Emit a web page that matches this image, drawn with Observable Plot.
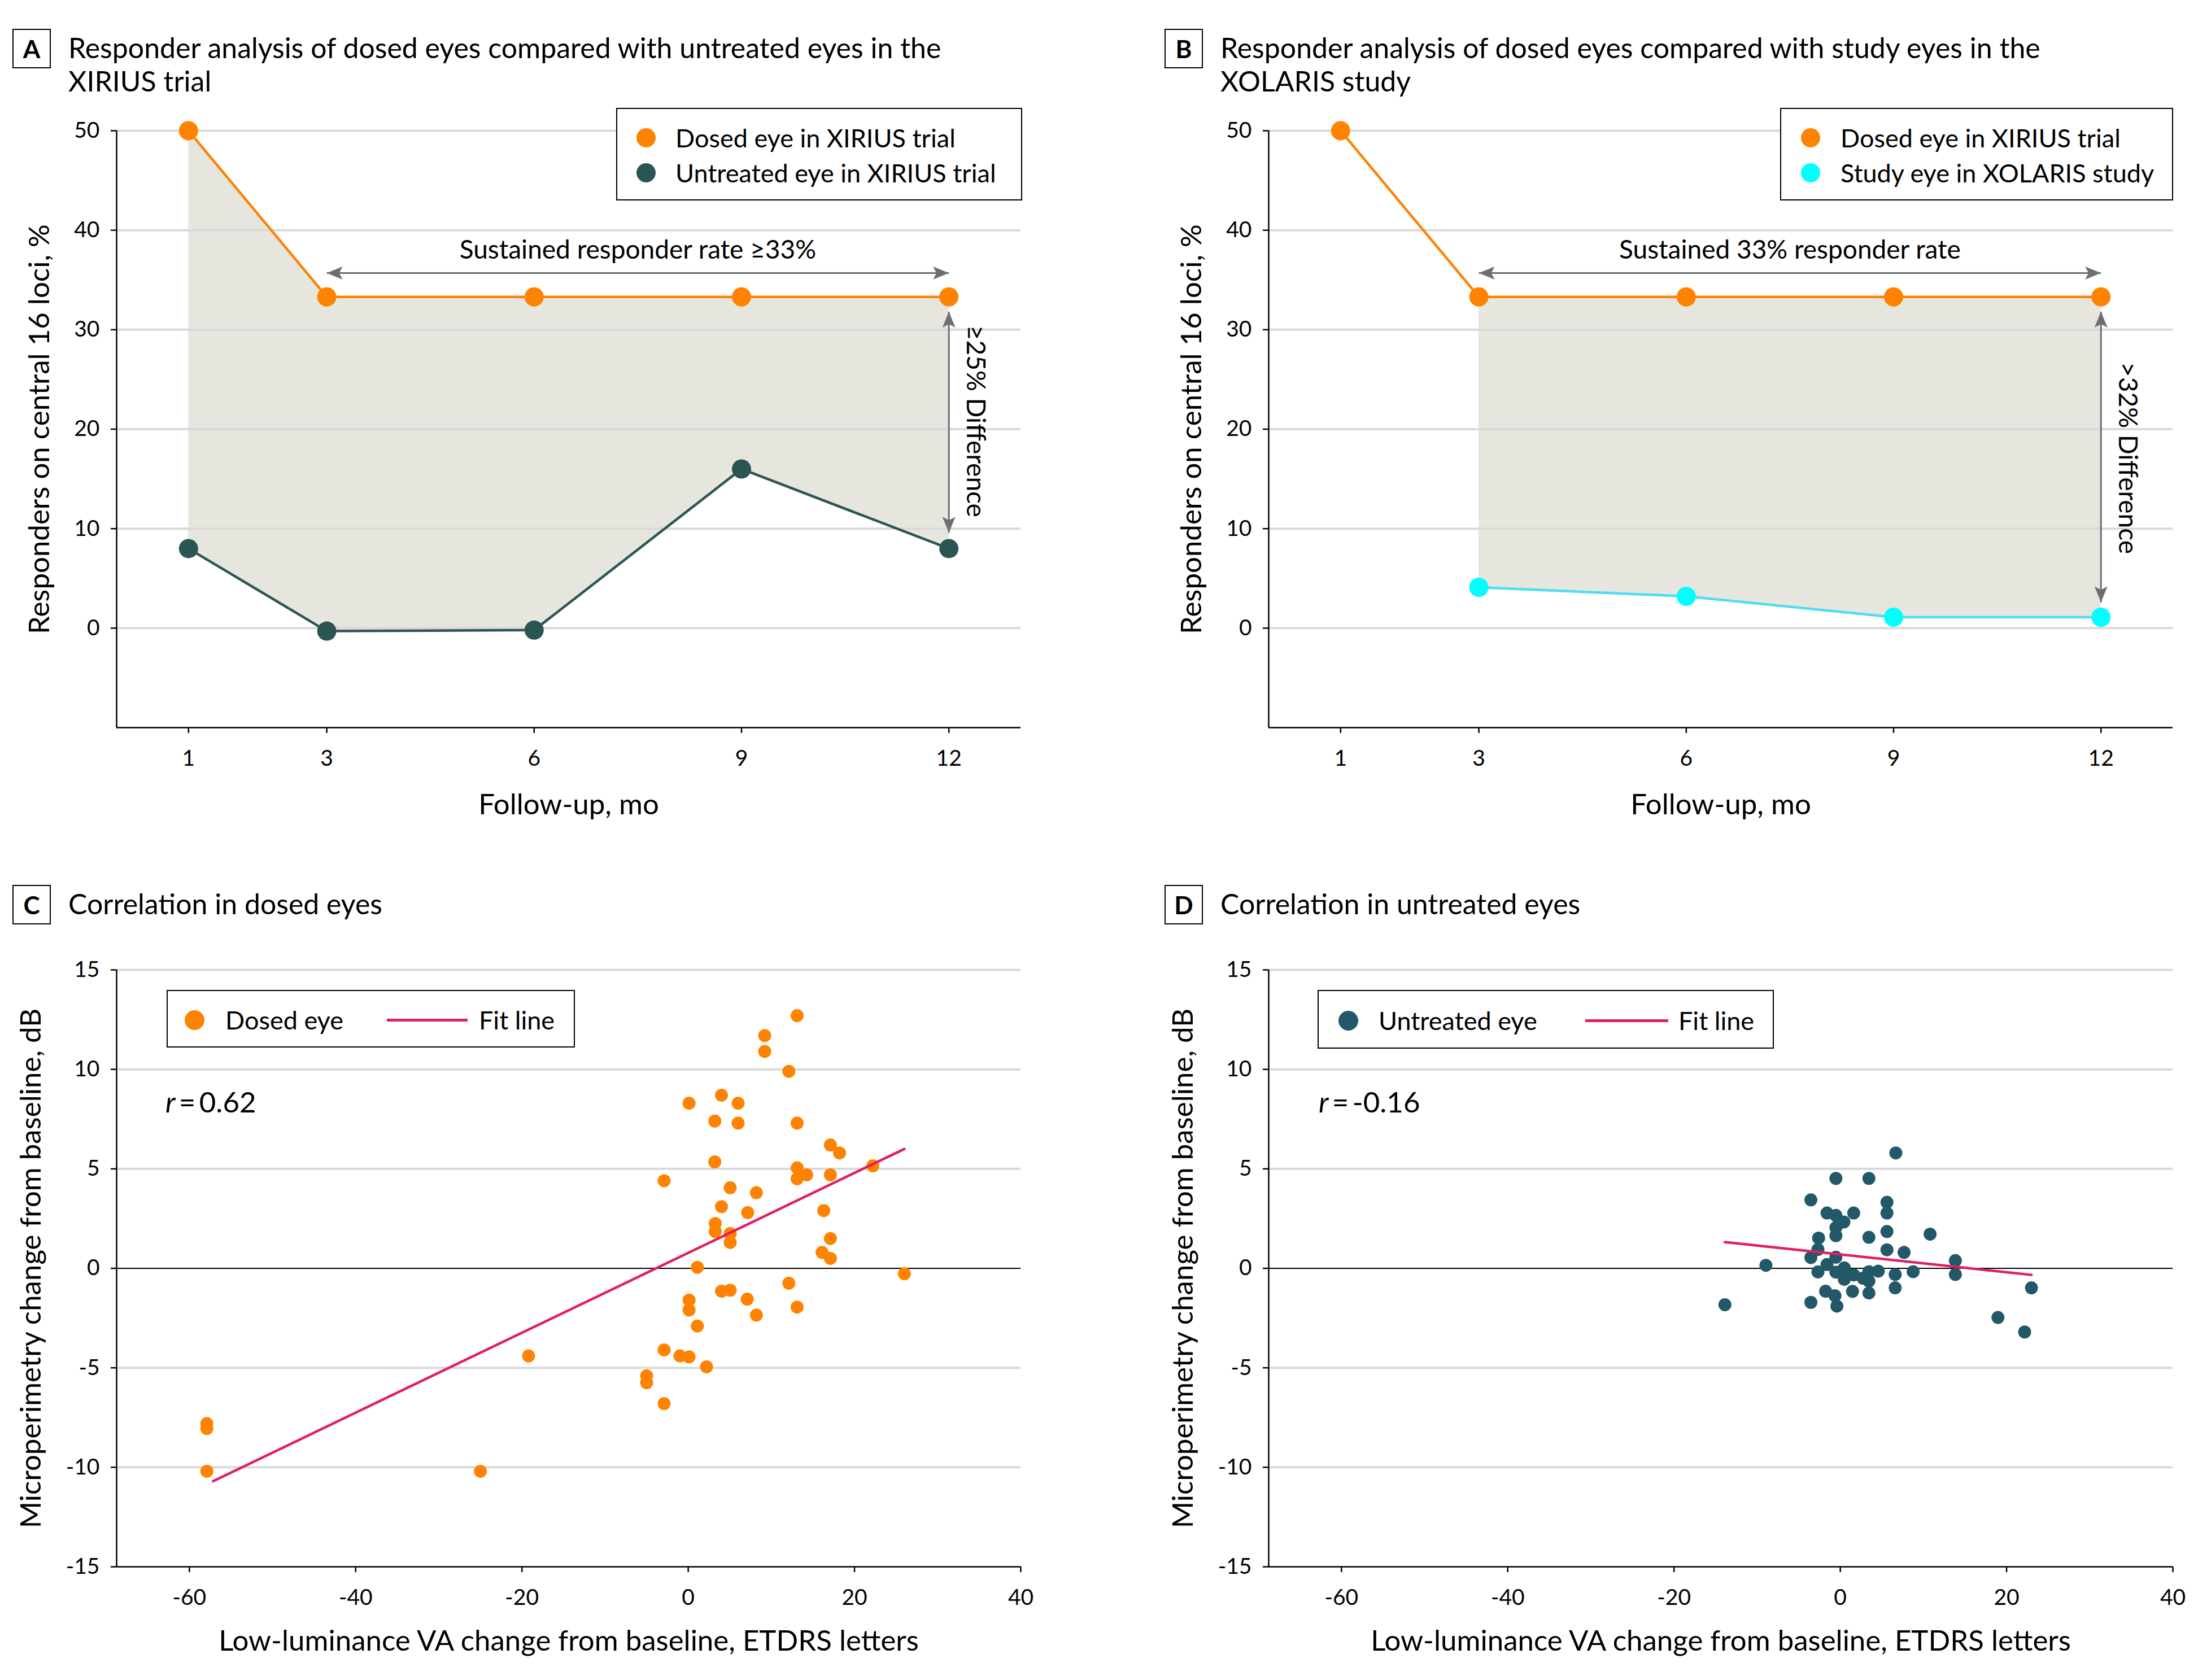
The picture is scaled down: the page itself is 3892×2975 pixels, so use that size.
<!DOCTYPE html>
<html><head><meta charset="utf-8">
<script src="https://cdn.jsdelivr.net/npm/d3@7"></script>
<script src="https://cdn.jsdelivr.net/npm/@observablehq/plot@0.6"></script>
<style>
html,body{margin:0;padding:0;background:#fff;}
body{width:3892px;height:2975px;position:relative;overflow:hidden;font-family:Lato,"Noto Sans",sans-serif;color:#000;}
.panel{position:absolute;width:1946px;height:1480px;}
.lab{position:absolute;left:22px;top:51px;width:64px;height:66px;border:2.5px solid #000;font-weight:700;font-size:44px;display:flex;align-items:center;justify-content:center;}
.title{position:absolute;left:121px;top:55px;font-size:50px;line-height:59px;white-space:nowrap;}
.svgwrap{position:absolute;left:0;}
.legend{position:absolute;background:#fff;border:2.5px solid #000;box-sizing:border-box;}
.ldot{position:absolute;border-radius:50%;}
.lline{position:absolute;}
.ltxt{position:absolute;font-size:45px;line-height:1;white-space:nowrap;transform:translateY(-50%);}
.rtxt{position:absolute;font-size:51px;line-height:51px;white-space:nowrap;}
</style>
</head><body>
<script>
// ---------- data ----------
const months = [1, 3, 6, 9, 12];
const dosedXirius = [50, 33.3, 33.3, 33.3, 33.3];
const untreatedXirius = [8, -0.3, -0.2, 16, 8];
const xolarisMonths = [3, 6, 9, 12];
const dosedAtXolaris = [33.3, 33.3, 33.3, 33.3];
const studyXolaris = [4.1, 3.2, 1.1, 1.1];

const monthTicks = [1, 3, 6, 9, 12];
const responderTicks = [0, 10, 20, 30, 40, 50];
const vaTicks = [-60, -40, -20, 0, 20, 40];
const dbTicks = [-15, -10, -5, 0, 5, 10, 15];

const dosedVA = [13.1, 9.2, 9.2, 12.1, 4.0, 0.1, 6.0, 3.2, 6.0, 13.1, 17.1, 18.2, 3.2, 22.2, 13.1, 13.1, 14.25, 17.1, -2.9, 5.05, 8.2, 4.0, 7.15, 16.3, 3.25, 3.25, 5.05, 5.05, 17.1, 16.1, 17.1, 1.1, 26.0, 12.1, 4.0, 5.05, 7.1, 0.1, 0.1, 13.1, 8.2, 1.1, -2.9, -1.0, 0.1, 2.2, -5.0, -5.0, -2.9, -19.2, -57.9, -57.9, -57.9, -25.0];
const dosedDB = [12.7, 11.7, 10.9, 9.9, 8.7, 8.3, 8.3, 7.4, 7.3, 7.3, 6.2, 5.8, 5.35, 5.15, 5.05, 4.5, 4.7, 4.7, 4.4, 4.05, 3.8, 3.1, 2.8, 2.9, 2.25, 1.85, 1.75, 1.3, 1.5, 0.8, 0.5, 0.05, -0.27, -0.75, -1.15, -1.1, -1.55, -1.6, -2.1, -1.95, -2.35, -2.9, -4.1, -4.4, -4.45, -4.95, -5.4, -5.75, -6.8, -4.4, -7.8, -8.05, -10.2, -10.2];

const untreatedVA = [6.68, -0.53, 3.44, -3.54, 5.61, 5.61, -1.6, -0.53, 1.61, 0.43, -0.53, -0.53, -2.61, 3.44, 5.61, 10.8, -2.69, 5.61, 7.67, -3.54, -0.53, 13.84, -8.95, -1.6, -2.69, -0.53, 0.48, 0.48, 1.61, 3.44, 4.57, 2.74, 3.44, 0.48, 6.6, 8.76, 13.84, 6.6, 1.47, 3.44, -1.77, -0.64, -0.41, -3.54, -13.88, 22.99, 18.96, 22.17];
const untreatedDB = [5.8, 4.52, 4.52, 3.44, 3.32, 2.78, 2.78, 2.66, 2.78, 2.33, 2.05, 1.64, 1.52, 1.56, 1.85, 1.72, 0.95, 0.93, 0.8, 0.54, 0.56, 0.39, 0.15, 0.19, -0.18, -0.19, 0.02, -0.31, -0.33, -0.17, -0.14, -0.5, -0.64, -0.55, -0.31, -0.17, -0.31, -0.98, -1.16, -1.24, -1.15, -1.38, -1.9, -1.71, -1.83, -0.98, -2.47, -3.2];

const fitDosedVA = [-57.15, 26.0];
const fitDosedDB = [-10.7, 6.0];
const fitUntreatedVA = [-13.9, 23.0];
const fitUntreatedDB = [1.32, -0.33];

// annotations
const spanA = {label: "Sustained responder rate \u226533%", x1: 3, x2: 12, y: 35.7, labelY: 38};
const diffA = {label: "\u226525% Difference", x: 12, y1: 31.8, y2: 9.6, labelX: 12.38, labelY: 20.8};
const spanB = {label: "Sustained 33% responder rate", x1: 3, x2: 12, y: 35.7, labelY: 38};
const diffB = {label: ">32% Difference", x: 12, y1: 31.8, y2: 2.6, labelX: 12.38, labelY: 17.1};

const titles = {
  A: ["Responder analysis of dosed eyes compared with untreated eyes in the", "XIRIUS trial"],
  B: ["Responder analysis of dosed eyes compared with study eyes in the", "XOLARIS study"],
  C: ["Correlation in dosed eyes"],
  D: ["Correlation in untreated eyes"]
};
const legendLabels = {
  A: ["Dosed eye in XIRIUS trial", "Untreated eye in XIRIUS trial"],
  B: ["Dosed eye in XIRIUS trial", "Study eye in XOLARIS study"],
  C: ["Dosed eye", "Fit line"],
  D: ["Untreated eye", "Fit line"]
};
const corr = {C: "0.62", D: "-0.16"};
const xLabels = {top: "Follow-up, mo", bottom: "Low-luminance VA change from baseline, ETDRS letters"};
const yLabels = {top: "Responders on central 16 loci, %", bottom: "Microperimetry change from baseline, dB"};

// ---------- style ----------
const FONT = 'Lato, "Noto Sans", sans-serif';
const ORANGE = "#ff8200";
const DARK_A = "#2a5553";
const DARK_D = "#225868";
const CYAN_DOT = "#00ffff";
const CYAN_LINE = "#4fdcf5";
const FIT = "#e01f5f";
const SHADE = "#e6e6de";
const GRID = "#d9d9d9";
const ARROW = "#6e6e6e";

const HEAD = {draw(ctx) { ctx.moveTo(0, 0); ctx.lineTo(11.5, 28); ctx.lineTo(0, 22); ctx.lineTo(-11.5, 28); ctx.closePath(); }};

const W = 1946, H = 1360;
const M = {marginLeft: 206, marginRight: 139, marginTop: 91, marginBottom: 212};

function axes(xTicks, yTicks, xDomain, yDomain, xl, yl, xlOff, ylOff) {
  return [
    Plot.ruleX([xDomain[0]], {stroke: "#000", strokeWidth: 2.5}),
    Plot.ruleY([yDomain[0]], {stroke: "#000", strokeWidth: 2.5}),
    Plot.axisX({ticks: xTicks, tickSize: 10, tickPadding: 30, tickFormat: d => String(d), fontSize: 39, strokeWidth: 2.5, label: null}),
    Plot.axisY({ticks: yTicks, tickSize: 10, tickPadding: 20, tickFormat: d => String(d), fontSize: 39, strokeWidth: 2.5, label: null}),
    Plot.text([xl], {text: d => d, frameAnchor: "bottom", textAnchor: "middle", dy: xlOff, fontSize: 51, lineAnchor: "middle"}),
    Plot.text([yl], {text: d => d, frameAnchor: "left", textAnchor: "middle", dx: ylOff, rotate: -90, fontSize: 51, lineAnchor: "middle"})
  ];
}

function annotation(span, diff) {
  const hHeads = [{x: span.x1, y: span.y, a: -90}, {x: span.x2, y: span.y, a: 90}];
  const vHeads = [{x: diff.x, y: diff.y1, a: 0}, {x: diff.x, y: diff.y2, a: 180}];
  return [
    Plot.link([span], {x1: "x1", x2: "x2", y1: "y", y2: "y", stroke: ARROW, strokeWidth: 3}),
    Plot.dot(hHeads, {x: "x", y: "y", rotate: "a", symbol: HEAD, r: 10, fill: ARROW}),
    Plot.text([span], {x: d => (d.x1 + d.x2) / 2, y: "labelY", text: "label", fontSize: 46}),
    Plot.link([diff], {x1: "x", x2: "x", y1: "y1", y2: "y2", stroke: ARROW, strokeWidth: 3}),
    Plot.dot(vHeads, {x: "x", y: "y", rotate: "a", symbol: HEAD, r: 10, fill: ARROW}),
    Plot.text([diff], {x: "labelX", y: "labelY", text: "label", rotate: 90, fontSize: 46})
  ];
}

function basePlot(xDomain, yDomain, marks) {
  return Plot.plot({
    width: W, height: H, ...M,
    x: {domain: xDomain, label: null},
    y: {domain: yDomain, label: null},
    style: {background: "transparent", fontFamily: FONT, fontSize: "39px", color: "#000", overflow: "visible"},
    marks
  });
}

const respX = [-0.04, 13.04], respY = [-10, 50];
const corrX = [-68.75, 40], corrY = [-15, 15];

const rowsA = months.map((m, i) => ({m, hi: dosedXirius[i], lo: untreatedXirius[i]}));
const rowsB = xolarisMonths.map((m, i) => ({m, hi: dosedAtXolaris[i], lo: studyXolaris[i]}));
const dosedRows = months.map((m, i) => ({m, v: dosedXirius[i]}));

const plotA = basePlot(respX, respY, [
  Plot.areaY(rowsA, {x: "m", y1: "lo", y2: "hi", fill: SHADE}),
  Plot.ruleY(responderTicks, {stroke: GRID, strokeWidth: 4}),
  ...axes(monthTicks, responderTicks, respX, respY, xLabels.top, yLabels.top, 137, -136),
  ...annotation(spanA, diffA),
  Plot.line(rowsA, {x: "m", y: "lo", stroke: DARK_A, strokeWidth: 4.5}),
  Plot.line(dosedRows, {x: "m", y: "v", stroke: ORANGE, strokeWidth: 4.5}),
  Plot.dot(rowsA, {x: "m", y: "lo", r: 17, fill: DARK_A}),
  Plot.dot(dosedRows, {x: "m", y: "v", r: 17, fill: ORANGE})
]);

const plotB = basePlot(respX, respY, [
  Plot.areaY(rowsB, {x: "m", y1: "lo", y2: "hi", fill: SHADE}),
  Plot.ruleY(responderTicks, {stroke: GRID, strokeWidth: 4}),
  ...axes(monthTicks, responderTicks, respX, respY, xLabels.top, yLabels.top, 137, -136),
  ...annotation(spanB, diffB),
  Plot.line(rowsB, {x: "m", y: "lo", stroke: CYAN_LINE, strokeWidth: 4.5}),
  Plot.line(dosedRows, {x: "m", y: "v", stroke: ORANGE, strokeWidth: 4.5}),
  Plot.dot(rowsB, {x: "m", y: "lo", r: 17, fill: CYAN_DOT}),
  Plot.dot(dosedRows, {x: "m", y: "v", r: 17, fill: ORANGE})
]);

function corrPlot(vx, vy, fx, fy, color) {
  const pts = vx.map((x, i) => ({x, y: vy[i]}));
  const fit = fx.map((x, i) => ({x, y: fy[i]}));
  return basePlot(corrX, corrY, [
    Plot.ruleY(dbTicks.filter(t => t !== 0 && t !== corrY[0]), {stroke: GRID, strokeWidth: 4}),
    Plot.ruleY([0], {stroke: "#000", strokeWidth: 2}),
    ...axes(vaTicks, dbTicks, corrX, corrY, xLabels.bottom, yLabels.bottom, 132, -151),
    Plot.dot(pts, {x: "x", y: "y", r: 11.5, fill: color}),
    Plot.line(fit, {x: "x", y: "y", stroke: FIT, strokeWidth: 4.5})
  ]);
}
const plotC = corrPlot(dosedVA, dosedDB, fitDosedVA, fitDosedDB, ORANGE);
const plotD = corrPlot(untreatedVA, untreatedDB, fitUntreatedVA, fitUntreatedDB, DARK_D);

// ---------- layout ----------
function panel(key, left, top, svgTop, plot) {
  const p = document.createElement("div");
  p.className = "panel"; p.style.left = left + "px"; p.style.top = top + "px";
  const lab = document.createElement("div"); lab.className = "lab"; lab.textContent = key; p.appendChild(lab);
  const t = document.createElement("div"); t.className = "title";
  titles[key].forEach((line, i) => { if (i) t.appendChild(document.createElement("br")); t.appendChild(document.createTextNode(line)); });
  p.appendChild(t);
  const w = document.createElement("div"); w.className = "svgwrap"; w.style.top = svgTop + "px"; w.appendChild(plot); p.appendChild(w);
  document.body.appendChild(p);
  return p;
}
function legend(p, box, items) {
  const el = document.createElement("div"); el.className = "legend";
  Object.assign(el.style, {left: box.left + "px", top: box.top + "px", width: box.width + "px", height: box.height + "px"});
  items.forEach(it => {
    if (it.kind === "dot") {
      const d = document.createElement("div"); d.className = "ldot";
      Object.assign(d.style, {left: (it.sx - it.r) + "px", top: (it.cy - it.r) + "px", width: 2 * it.r + "px", height: 2 * it.r + "px", background: it.color});
      el.appendChild(d);
    } else {
      const d = document.createElement("div"); d.className = "lline";
      Object.assign(d.style, {left: it.sx + "px", top: (it.cy - 2.5) + "px", width: (it.sx2 - it.sx) + "px", height: "5px", background: it.color});
      el.appendChild(d);
    }
    const s = document.createElement("div"); s.className = "ltxt"; s.textContent = it.label;
    s.style.left = it.tx + "px"; s.style.top = it.cy + "px";
    el.appendChild(s);
  });
  p.appendChild(el);
}
function rText(p, key, left) {
  const d = document.createElement("div"); d.className = "rtxt";
  d.style.left = left + "px"; d.style.top = "409px";
  const i = document.createElement("i"); i.textContent = "r";
  d.appendChild(i); d.appendChild(document.createTextNode("\u2009=\u2009" + corr[key]));
  p.appendChild(d);
}

const pA = panel("A", 0, 0, 140, plotA);
legend(pA, {left: 1091, top: 191, width: 719, height: 164}, [
  {kind: "dot", sx: 51, cy: 51, r: 17, color: ORANGE, tx: 103, label: legendLabels.A[0]},
  {kind: "dot", sx: 51, cy: 113, r: 17, color: DARK_A, tx: 103, label: legendLabels.A[1]}
]);
const pB = panel("B", 2040, 0, 140, plotB);
legend(pB, {left: 1112, top: 191, width: 696, height: 164}, [
  {kind: "dot", sx: 52, cy: 51, r: 17, color: ORANGE, tx: 105, label: legendLabels.B[0]},
  {kind: "dot", sx: 52, cy: 113, r: 17, color: CYAN_DOT, tx: 105, label: legendLabels.B[1]}
]);
const pC = panel("C", 0, 1516, 110, plotC);
legend(pC, {left: 295, top: 237, width: 723, height: 102}, [
  {kind: "dot", sx: 47, cy: 51, r: 17.5, color: ORANGE, tx: 102, label: legendLabels.C[0]},
  {kind: "line", sx: 388, sx2: 531, cy: 51, color: FIT, tx: 551, label: legendLabels.C[1]}
]);
rText(pC, "C", 293);
const pD = panel("D", 2040, 1516, 110, plotD);
legend(pD, {left: 293, top: 237, width: 808, height: 104}, [
  {kind: "dot", sx: 52, cy: 52, r: 17.5, color: DARK_D, tx: 106, label: legendLabels.D[0]},
  {kind: "line", sx: 472, sx2: 619, cy: 52, color: FIT, tx: 637, label: legendLabels.D[1]}
]);
rText(pD, "D", 295);
</script>
</body></html>
